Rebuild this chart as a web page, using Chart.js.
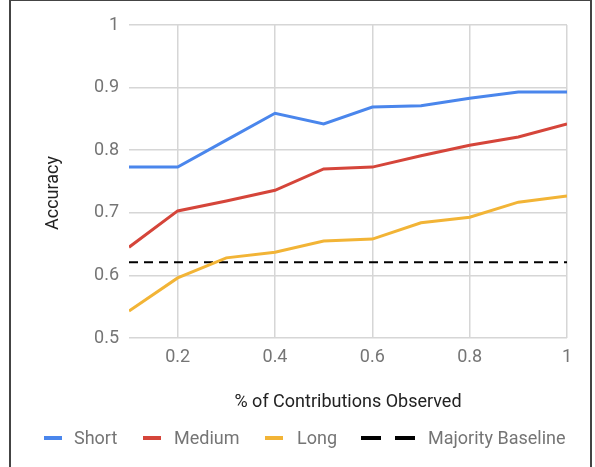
<!DOCTYPE html>
<html>
<head>
<meta charset="utf-8">
<script src="https://cdn.jsdelivr.net/npm/chart.js@4"></script>
<style>
  html, body { margin: 0; padding: 0; background: #fff; }
  #wrap { position: relative; width: 595px; height: 467px; overflow: hidden; font-family: Roboto, sans-serif; }
  #frame { position: absolute; left: 9px; top: -1px; width: 583px; height: 480px; border: 2px solid #444; box-sizing: border-box; pointer-events: none; }
  #chart { position: absolute; left: 0; top: 0; }
  .leg { position: absolute; top: 427px; height: 22px; line-height: 22px; font-size: 18px; color: #757575; }
  .mark { position: absolute; top: 9px; height: 4px; }
</style>
</head>
<body>
<div id="wrap">
  <canvas id="chart" width="595" height="467"></canvas>
  <div id="legend"></div>
  <div id="frame"></div>
</div>
<script>
  // Données
  const observed = [0.1, 0.2, 0.3, 0.4, 0.5, 0.6, 0.7, 0.8, 0.9, 1.0];
  const shortAcc  = [0.773, 0.773, 0.816, 0.859, 0.842, 0.869, 0.871, 0.883, 0.893, 0.893];
  const mediumAcc = [0.645, 0.703, 0.719, 0.736, 0.770, 0.773, 0.791, 0.808, 0.821, 0.842];
  const longAcc   = [0.543, 0.596, 0.628, 0.637, 0.655, 0.658, 0.684, 0.693, 0.717, 0.727];
  const baselineX = [0.1, 1.0];
  const baselineAcc = [0.621, 0.621];
  const xTicks = [0.2, 0.4, 0.6, 0.8, 1];
  const seriesNames = ['Short', 'Medium', 'Long', 'Majority Baseline'];
  const colors = ['#4A86EC', '#D5453A', '#F2B436', '#000000'];

  const toPoints = (xs, ys) => xs.map((x, i) => ({ x: x, y: ys[i] }));

  // Titre de l'axe Y (un peu sous le centre, comme l'original)
  const yTitle = {
    id: 'yTitle',
    afterDraw(chart) {
      const ctx = chart.ctx;
      ctx.save();
      ctx.translate(53, 193);
      ctx.rotate(-Math.PI / 2);
      ctx.font = '18px Roboto';
      ctx.fillStyle = '#222';
      ctx.textAlign = 'center';
      ctx.textBaseline = 'middle';
      ctx.fillText('Accuracy', 0, 0);
      ctx.restore();
    }
  };

  new Chart(document.getElementById('chart'), {
    type: 'line',
    data: {
      datasets: [
        { label: seriesNames[0], data: toPoints(observed, shortAcc), borderColor: colors[0], borderWidth: 3 },
        { label: seriesNames[1], data: toPoints(observed, mediumAcc), borderColor: colors[1], borderWidth: 3 },
        { label: seriesNames[2], data: toPoints(observed, longAcc), borderColor: colors[2], borderWidth: 3 },
        { label: seriesNames[3], data: toPoints(baselineX, baselineAcc), borderColor: colors[3], borderWidth: 2, borderDash: [9, 6] }
      ]
    },
    options: {
      responsive: false,
      animation: false,
      elements: { point: { radius: 0 }, line: { tension: 0 } },
      layout: { padding: { left: 0, right: 28, top: 25, bottom: 54 } },
      plugins: { legend: { display: false }, tooltip: { enabled: false } },
      scales: {
        x: {
          type: 'linear',
          min: 0.1,
          max: 1,
          afterBuildTicks: s => { s.ticks = xTicks.map(v => ({ value: v })); },
          afterFit: s => { s.height = 75; },
          grid: { color: '#d6d6d6', lineWidth: 1.5, drawTicks: false },
          border: { display: false },
          ticks: {
            padding: 9,
            color: '#757575',
            font: { family: 'Roboto', size: 18 },
            callback: v => String(Number(v.toFixed(1)))
          },
          title: {
            display: true,
            text: '% of Contributions Observed',
            color: '#222',
            font: { family: 'Roboto', size: 18 },
            padding: { top: 0, bottom: 0 }
          }
        },
        y: {
          min: 0.5,
          max: 1,
          afterFit: s => { s.width = 129; },
          grid: { color: '#d6d6d6', lineWidth: 1.5, drawTicks: false },
          border: { display: false },
          ticks: {
            stepSize: 0.1,
            padding: 10,
            color: '#757575',
            font: { family: 'Roboto', size: 18 },
            callback: v => String(Number(v.toFixed(1)))
          }
        }
      }
    },
    plugins: [yTitle]
  });

  // Légende HTML
  const legendPos = [
    { mark: 44, w: 18, text: 74 },
    { mark: 143, w: 18, text: 174 },
    { mark: 265, w: 18, text: 297 },
    { mark: 361, w: 54, text: 428 }
  ];
  const legend = document.getElementById('legend');
  seriesNames.forEach((name, i) => {
    const p = legendPos[i];
    const m = document.createElement('div');
    m.className = 'leg';
    m.style.left = p.mark + 'px';
    if (i === 3) {
      m.innerHTML = '<span class="mark" style="left:0;width:20px;background:#000"></span>' +
                    '<span class="mark" style="left:34px;width:20px;background:#000"></span>';
    } else {
      m.innerHTML = '<span class="mark" style="left:0;width:' + p.w + 'px;background:' + colors[i] + '"></span>';
    }
    legend.appendChild(m);
    const t = document.createElement('div');
    t.className = 'leg';
    t.style.left = p.text + 'px';
    t.textContent = name;
    legend.appendChild(t);
  });
</script>
</body>
</html>
